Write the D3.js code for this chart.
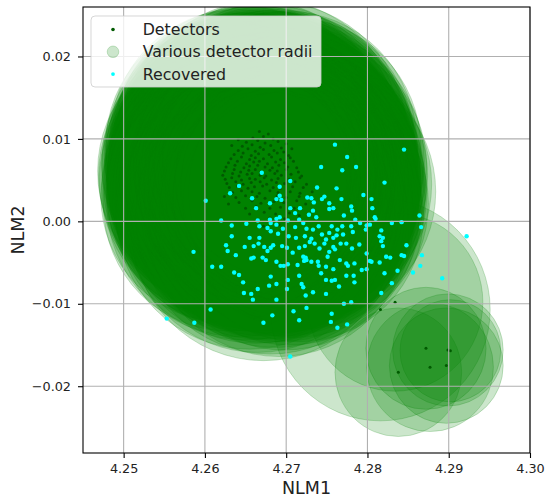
<!DOCTYPE html>
<html>
<head>
<meta charset="utf-8">
<script src="https://cdn.jsdelivr.net/npm/d3@7"></script>
<style>
  body { margin: 0; background: #fff; }
  #chart { display: block; font-family: "DejaVu Sans", sans-serif; }
</style>
</head>
<body>
<svg id="chart" width="545" height="497"></svg>
<script>
// detector position + radius: [NLM1, NLM2, radius]
const detectors = [
  [4.2667,0.0109,0.0158],[4.2678,0.0106,0.0163],
  [4.2659,0.0101,0.0161],[4.2672,0.0103,0.0157],[4.2684,0.0100,0.0166],[4.2641,0.0099,0.0158],
  [4.2651,0.0096,0.0164],[4.2665,0.0098,0.0159],[4.2674,0.0095,0.0168],[4.2690,0.0097,0.0160],[4.2700,0.0094,0.0161],
  [4.2646,0.0091,0.0162],[4.2658,0.0093,0.0167],[4.2668,0.0090,0.0156],[4.2681,0.0092,0.0163],[4.2694,0.0089,0.0165],[4.2633,0.0092,0.0155],
  [4.2641,0.0086,0.0159],[4.2653,0.0088,0.0165],[4.2662,0.0085,0.0161],[4.2672,0.0087,0.0169],[4.2685,0.0086,0.0158],[4.2697,0.0084,0.0162],[4.2707,0.0088,0.0159],
  [4.2636,0.0081,0.0160],[4.2647,0.0083,0.0160],[4.2657,0.0080,0.0163],[4.2666,0.0082,0.0157],[4.2679,0.0081,0.0164],[4.2689,0.0083,0.0170],[4.2703,0.0080,0.0159],
  [4.2632,0.0076,0.0155],[4.2645,0.0078,0.0167],[4.2655,0.0075,0.0158],[4.2662,0.0077,0.0163],[4.2672,0.0076,0.0160],[4.2682,0.0078,0.0166],[4.2693,0.0075,0.0162],[4.2705,0.0077,0.0157],
  [4.2629,0.0071,0.0156],[4.2640,0.0073,0.0158],[4.2651,0.0070,0.0168],[4.2660,0.0072,0.0161],[4.2667,0.0073,0.0165],[4.2677,0.0070,0.0159],[4.2687,0.0072,0.0164],[4.2698,0.0071,0.0160],[4.2709,0.0073,0.0161],
  [4.2626,0.0066,0.0153],[4.2637,0.0068,0.0159],[4.2648,0.0065,0.0161],[4.2655,0.0067,0.0157],[4.2665,0.0068,0.0168],[4.2674,0.0066,0.0162],[4.2683,0.0065,0.0158],[4.2691,0.0068,0.0164],[4.2702,0.0066,0.0160],[4.2713,0.0065,0.0160],
  [4.2624,0.0061,0.0156],[4.2636,0.0063,0.0156],[4.2644,0.0060,0.0166],[4.2654,0.0062,0.0158],[4.2662,0.0063,0.0163],[4.2669,0.0060,0.0161],[4.2680,0.0062,0.0167],[4.2689,0.0061,0.0159],[4.2700,0.0063,0.0162],[4.2715,0.0060,0.0153],
  [4.2622,0.0056,0.0153],[4.2634,0.0058,0.0158],[4.2642,0.0055,0.0162],[4.2652,0.0057,0.0169],[4.2658,0.0058,0.0157],[4.2668,0.0056,0.0163],[4.2675,0.0055,0.0160],[4.2686,0.0058,0.0165],[4.2694,0.0056,0.0158],[4.2706,0.0057,0.0159],[4.2719,0.0055,0.0155],
  [4.2625,0.0051,0.0155],[4.2633,0.0053,0.0153],[4.2645,0.0050,0.0165],[4.2655,0.0052,0.0161],[4.2662,0.0051,0.0167],[4.2673,0.0053,0.0159],[4.2682,0.0050,0.0164],[4.2690,0.0052,0.0160],[4.2704,0.0051,0.0161],[4.2717,0.0053,0.0153],
  [4.2627,0.0046,0.0152],[4.2638,0.0048,0.0159],[4.2647,0.0045,0.0160],[4.2657,0.0047,0.0166],[4.2668,0.0048,0.0161],[4.2676,0.0045,0.0157],[4.2688,0.0047,0.0163],[4.2698,0.0046,0.0168],[4.2711,0.0048,0.0155],[4.2725,0.0045,0.0154],
  [4.2630,0.0041,0.0157],[4.2640,0.0043,0.0159],[4.2653,0.0040,0.0163],[4.2661,0.0042,0.0158],[4.2671,0.0043,0.0166],[4.2684,0.0041,0.0160],[4.2693,0.0040,0.0164],[4.2708,0.0042,0.0157],[4.2721,0.0041,0.0151],
  [4.2634,0.0035,0.0155],[4.2645,0.0037,0.0166],[4.2658,0.0036,0.0159],[4.2667,0.0034,0.0163],[4.2680,0.0037,0.0160],[4.2690,0.0035,0.0165],[4.2705,0.0036,0.0158],[4.2717,0.0034,0.0156],[4.2732,0.0036,0.0152],
  [4.2638,0.0029,0.0155],[4.2650,0.0031,0.0164],[4.2664,0.0030,0.0161],[4.2674,0.0028,0.0167],[4.2689,0.0031,0.0158],[4.2700,0.0029,0.0163],[4.2716,0.0030,0.0155],[4.2624,0.0030,0.0152],
  [4.2642,0.0023,0.0163],[4.2658,0.0025,0.0158],[4.2669,0.0022,0.0165],[4.2685,0.0024,0.0160],[4.2697,0.0023,0.0162],[4.2713,0.0025,0.0153],[4.2629,0.0021,0.0154],[4.2724,0.0021,0.0151],
  [4.2650,0.0016,0.0160],[4.2663,0.0018,0.0166],[4.2680,0.0016,0.0159],[4.2693,0.0017,0.0163],[4.2710,0.0016,0.0157],
  [4.2655,0.0009,0.0164],[4.2673,0.0011,0.0158],[4.2687,0.0009,0.0162],[4.2704,0.0010,0.0160],[4.2716,0.0007,0.0153],
  [4.2665,0.0002,0.0161],[4.2680,0.0004,0.0165],[4.2698,0.0003,0.0159],
  [4.2672,-0.0006,0.0163],[4.2691,-0.0004,0.0160],
  // outlying detectors, lower right
  [4.2816,-0.0107,0.0135],[4.2834,-0.0098,0.0108],[4.2872,-0.0154,0.0074],[4.2899,-0.0156,0.0068],
  [4.2902,-0.0157,0.0062],[4.2838,-0.0183,0.0078],[4.2877,-0.0177,0.0078],[4.2897,-0.0175,0.0070]
];

// recovered positions: [NLM1, NLM2]
const recovered = [
  [4.2760,0.0093],[4.2845,0.0087],[4.2775,0.0078],[4.2743,0.0066],[4.2786,0.0066],[4.2769,0.0062],[4.2670,0.0059],
  [4.2705,0.0049],[4.2821,0.0047],[4.2642,0.0043],[4.2692,0.0042],[4.2738,0.0041],[4.2762,0.0040],[4.2601,0.0025],
  [4.2631,0.0034],[4.2658,0.0028],[4.2688,0.0027],[4.2692,0.0031],[4.2694,0.0026],[4.2680,0.0022],[4.2726,0.0029],
  [4.2731,0.0028],[4.2734,0.0023],[4.2747,0.0030],[4.2744,0.0027],[4.2753,0.0022],[4.2768,0.0027],[4.2795,0.0032],
  [4.2805,0.0027],[4.2705,0.0016],[4.2717,0.0016],[4.2663,0.0016],[4.2780,0.0018],[4.2781,0.0013],[4.2806,0.0016],
  [4.2753,0.0015],[4.2758,0.0016],[4.2728,0.0008],[4.2737,0.0005],[4.2733,0.0013],[4.2711,0.0010],[4.2688,0.0003],
  [4.2681,-0.0002],[4.2620,0.0001],[4.2633,-0.0005],[4.2665,0.0001],[4.2680,0.0002],[4.2692,0.0005],[4.2702,0.0001],
  [4.2716,0.0002],[4.2809,0.0005],[4.2810,0.0003],[4.2785,0.0002],[4.2771,0.0007],[4.2791,-0.0002],[4.2799,-0.0005],
  [4.2817,-0.0011],[4.2830,-0.0002],[4.2842,-0.0001],[4.2864,0.0007],[4.2866,-0.0007],[4.2651,-0.0003],[4.2667,-0.0006],
  [4.2677,-0.0008],[4.2688,-0.0004],[4.2681,-0.0012],[4.2690,-0.0015],[4.2696,-0.0009],[4.2703,-0.0018],[4.2711,-0.0007],
  [4.2721,-0.0002],[4.2725,-0.0009],[4.2733,-0.0010],[4.2740,-0.0006],[4.2756,-0.0006],[4.2769,-0.0006],[4.2780,-0.0006],
  [4.2744,-0.0016],[4.2753,-0.0014],[4.2763,-0.0010],[4.2770,-0.0016],[4.2782,-0.0013],[4.2798,-0.0010],[4.2803,-0.0004],
  [4.2815,-0.0018],[4.2819,-0.0020],[4.2633,-0.0018],[4.2667,-0.0020],[4.2655,-0.0020],[4.2712,-0.0020],[4.2723,-0.0018],
  [4.2731,-0.0021],[4.2749,-0.0022],[4.2758,-0.0020],[4.2762,-0.0017],[4.2626,-0.0029],[4.2628,-0.0036],[4.2638,-0.0041],
  [4.2649,-0.0031],[4.2660,-0.0030],[4.2666,-0.0027],[4.2673,-0.0031],[4.2677,-0.0036],[4.2681,-0.0032],[4.2684,-0.0029],
  [4.2695,-0.0030],[4.2701,-0.0032],[4.2708,-0.0038],[4.2716,-0.0032],[4.2723,-0.0030],[4.2729,-0.0025],[4.2735,-0.0027],
  [4.2741,-0.0033],[4.2747,-0.0027],[4.2753,-0.0037],[4.2758,-0.0031],[4.2760,-0.0034],[4.2767,-0.0027],[4.2774,-0.0027],
  [4.2781,-0.0033],[4.2790,-0.0028],[4.2799,-0.0039],[4.2803,-0.0048],[4.2819,-0.0030],[4.2817,-0.0024],[4.2823,-0.0043],
  [4.2828,-0.0044],[4.2842,-0.0041],[4.2848,-0.0029],[4.2867,-0.0041],[4.2865,-0.0054],[4.2856,-0.0062],[4.2892,-0.0069],
  [4.2609,-0.0055],[4.2620,-0.0055],[4.2636,-0.0062],[4.2642,-0.0065],[4.2657,-0.0045],[4.2660,-0.0044],[4.2671,-0.0044],
  [4.2675,-0.0047],[4.2688,-0.0049],[4.2693,-0.0054],[4.2697,-0.0054],[4.2702,-0.0052],[4.2714,-0.0053],[4.2721,-0.0043],
  [4.2724,-0.0044],[4.2722,-0.0048],[4.2725,-0.0047],[4.2731,-0.0049],[4.2739,-0.0049],[4.2740,-0.0054],[4.2749,-0.0055],
  [4.2751,-0.0043],[4.2758,-0.0058],[4.2766,-0.0047],[4.2774,-0.0051],[4.2776,-0.0054],[4.2784,-0.0051],[4.2793,-0.0059],
  [4.2799,-0.0058],[4.2805,-0.0049],[4.2815,-0.0050],[4.2821,-0.0063],[4.2837,-0.0060],[4.2845,-0.0042],[4.2647,-0.0074],
  [4.2657,-0.0088],[4.2659,-0.0095],[4.2648,-0.0087],[4.2665,-0.0082],[4.2679,-0.0078],[4.2681,-0.0067],[4.2688,-0.0076],
  [4.2701,-0.0082],[4.2702,-0.0071],[4.2716,-0.0066],[4.2719,-0.0076],[4.2721,-0.0080],[4.2724,-0.0090],[4.2733,-0.0086],
  [4.2743,-0.0063],[4.2749,-0.0088],[4.2749,-0.0071],[4.2756,-0.0072],[4.2760,-0.0071],[4.2765,-0.0079],[4.2774,-0.0066],
  [4.2783,-0.0066],[4.2784,-0.0074],[4.2817,-0.0087],[4.2830,-0.0075],[4.2771,-0.0100],[4.2607,-0.0107],[4.2672,-0.0123],
  [4.2683,-0.0114],[4.2688,-0.0095],[4.2709,-0.0109],[4.2716,-0.0120],[4.2725,-0.0105],[4.2756,-0.0112],[4.2755,-0.0122],
  [4.2763,-0.0129],[4.2775,-0.0125],[4.2780,-0.0098],[4.2553,-0.0118],[4.2587,-0.0123],[4.2705,-0.0164],[4.2586,-0.0037],
  [4.2922,-0.0018]
];

const xTicks = [4.25, 4.26, 4.27, 4.28, 4.29, 4.30];
const xTickLabels = ["4.25", "4.26", "4.27", "4.28", "4.29", "4.30"];
const yTicks = [-0.02, -0.01, 0.00, 0.01, 0.02];
const yTickLabels = ["\u22120.02", "\u22120.01", "0.00", "0.01", "0.02"];
const legendLabels = ["Detectors", "Various detector radii", "Recovered"];

const svg = d3.select("#chart");
const plot = { left: 83, right: 530, top: 7, bottom: 453 };

const x = d3.scaleLinear().domain([4.245, 4.300]).range([plot.left, plot.right]);
const y = d3.scaleLinear().domain([-0.0281, 0.0260]).range([plot.bottom, plot.top]);

// radius is in data units, so each circle is a (nearly round) ellipse on screen
const rx = r => x(4.245 + r) - x(4.245);
const ry = r => y(0) - y(r);

svg.append("defs").append("clipPath").attr("id", "plotClip")
  .append("rect")
  .attr("x", plot.left).attr("y", plot.top)
  .attr("width", plot.right - plot.left).attr("height", plot.bottom - plot.top);

const inner = svg.append("g").attr("clip-path", "url(#plotClip)");

// 1. detector radii
inner.append("g").attr("class", "radii")
  .selectAll("ellipse")
  .data(detectors)
  .enter()
  .append("ellipse")
  .attr("cx", d => x(d[0]))
  .attr("cy", d => y(d[1]))
  .attr("rx", d => rx(d[2]))
  .attr("ry", d => ry(d[2]))
  .attr("fill", "green").attr("fill-opacity", 0.2)
  .attr("stroke", "green").attr("stroke-opacity", 0.2).attr("stroke-width", 1);

// 2. grid
const grid = svg.append("g").attr("class", "grid");
grid.selectAll(".gx").data(xTicks).enter().append("line")
  .attr("x1", d => x(d)).attr("x2", d => x(d))
  .attr("y1", plot.top).attr("y2", plot.bottom);
grid.selectAll(".gy").data(yTicks).enter().append("line")
  .attr("x1", plot.left).attr("x2", plot.right)
  .attr("y1", d => y(d)).attr("y2", d => y(d));
grid.selectAll("line").attr("stroke", "#b0b0b0").attr("stroke-width", 1.1);

// 3. detectors and recovered points
inner.append("g").selectAll("circle")
  .data(detectors).enter().append("circle")
  .attr("cx", d => x(d[0])).attr("cy", d => y(d[1]))
  .attr("r", 1.5).attr("fill", "#005a00");

inner.append("g").selectAll("circle")
  .data(recovered).enter().append("circle")
  .attr("cx", d => x(d[0])).attr("cy", d => y(d[1]))
  .attr("r", 2.2).attr("fill", "#00ffff");

// 4. axes
const xAxis = d3.axisBottom(x).tickValues(xTicks)
  .tickFormat((d, i) => xTickLabels[i]).tickSize(5).tickSizeOuter(0).tickPadding(6);
const yAxis = d3.axisLeft(y).tickValues(yTicks)
  .tickFormat((d, i) => yTickLabels[i]).tickSize(5).tickSizeOuter(0).tickPadding(7);

const gx = svg.append("g").attr("transform", `translate(0,${plot.bottom})`).call(xAxis);
const gy = svg.append("g").attr("transform", `translate(${plot.left},0)`).call(yAxis);
[gx, gy].forEach(g => {
  g.select(".domain").remove();
  g.selectAll("line").attr("stroke", "#000").attr("stroke-width", 1.1);
  g.selectAll("text").attr("fill", "#222").style("font-size", "12.8px")
    .style("font-family", '"DejaVu Sans", sans-serif');
});

svg.append("rect")
  .attr("x", plot.left).attr("y", plot.top)
  .attr("width", plot.right - plot.left).attr("height", plot.bottom - plot.top)
  .attr("fill", "none").attr("stroke", "#000").attr("stroke-width", 1.1);

svg.append("text")
  .attr("x", (plot.left + plot.right) / 2).attr("y", 494)
  .attr("text-anchor", "middle").attr("fill", "#222")
  .style("font-size", "17.5px").text("NLM1");

svg.append("text")
  .attr("transform", `translate(24,${(plot.top + plot.bottom) / 2}) rotate(-90)`)
  .attr("text-anchor", "middle").attr("fill", "#222")
  .style("font-size", "17.5px").text("NLM2");

// 5. legend
const legend = svg.append("g").attr("class", "legend");
legend.append("rect")
  .attr("x", 91).attr("y", 16).attr("width", 230).attr("height", 71).attr("rx", 4)
  .attr("fill", "#fff").attr("fill-opacity", 0.8)
  .attr("stroke", "#ccc").attr("stroke-opacity", 0.8);

const rows = legend.selectAll(".row").data(legendLabels).enter().append("g")
  .attr("transform", (d, i) => `translate(0,${29.5 + i * 22.3})`);

rows.append("text")
  .attr("x", 142.7).attr("y", 5.6)
  .attr("fill", "#222").style("font-size", "15.8px")
  .text(d => d);

rows.filter((d, i) => i === 0).append("circle")
  .attr("cx", 113).attr("r", 1.8).attr("fill", "#005a00");
rows.filter((d, i) => i === 1).append("circle")
  .attr("cx", 113).attr("r", 5.8)
  .attr("fill", "green").attr("fill-opacity", 0.2)
  .attr("stroke", "green").attr("stroke-opacity", 0.2);
rows.filter((d, i) => i === 2).append("circle")
  .attr("cx", 113).attr("r", 1.9).attr("fill", "#00ffff");
</script>
</body>
</html>
